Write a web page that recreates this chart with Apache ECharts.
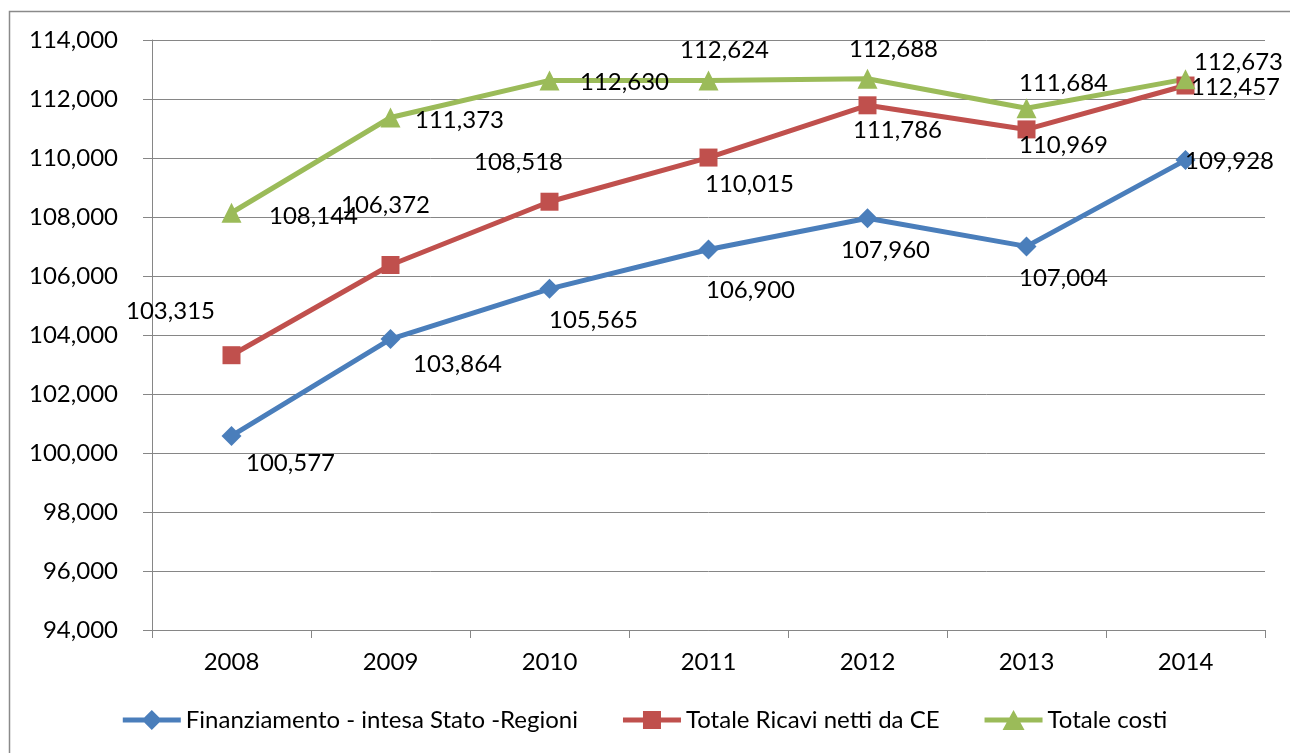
<!DOCTYPE html>
<html>
<head>
<meta charset="utf-8">
<style>
  html, body { margin: 0; padding: 0; background: #fff; }
  #chart { width: 1290px; height: 753px; }
</style>
<script src="https://cdn.jsdelivr.net/npm/echarts@6/dist/echarts.min.js"></script>
</head>
<body>
<div id="chart"></div>
<script>
// dati
var years = ['2008', '2009', '2010', '2011', '2012', '2013', '2014'];
var finanziamento = [100577, 103864, 105565, 106900, 107960, 107004, 109928];
var ricavi = [103315, 106372, 108518, 110015, 111786, 110969, 112457];
var costi = [108144, 111373, 112630, 112624, 112688, 111684, 112673];
var seriesNames = ['Finanziamento - intesa Stato -Regioni', 'Totale Ricavi netti da CE', 'Totale costi'];

// spostamento etichette (px) rispetto al punto
var offBlue = [[59, 27], [67, 25], [44, 31], [42, 41], [18, 32], [37, 32], [44, 1]];
var offRed = [[-61, -44], [-5, -60], [-31, -39], [41, 27], [30, 25], [37, 16], [50, 2]];
var offGreen = [[82, 4], [69, 3], [75, 2], [16, -30], [26, -29], [37, -25], [53, -17]];

// icone legenda: linea spessa + simbolo (58x20)
var bar = 'M0 7.5 L58 7.5 L58 12.5 L0 12.5 Z ';
var legendIcons = [
    'path://' + bar + 'M19 10 L29 0 L39 10 L29 20 Z',
    'path://' + bar + 'M20 1 L38 1 L38 19 L20 19 Z M0 0 L0.01 0 L0.01 20 L0 20 Z',
    'path://' + bar + 'M18 20 L29 0 L40 20 Z'
];

var FONT = 'Lato';
var FS = 24;
var fmt = function (v) { return Number(v).toLocaleString('en-US'); };

function makeData(values, offs) {
    return values.map(function (v, i) {
        return { value: v, label: { offset: offs[i] } };
    });
}

function lineSeries(name, values, offs, color, symbol, size) {
    return {
        name: name,
        type: 'line',
        data: makeData(values, offs),
        symbol: symbol,
        symbolSize: size,
        showAllSymbol: true,
        lineStyle: { color: color, width: 5 },
        itemStyle: { color: color },
        label: {
            show: true,
            position: 'inside',
            color: '#000',
            fontFamily: FONT,
            fontSize: FS,
            formatter: function (p) { return fmt(p.value); }
        },
        emphasis: { disabled: true },
        animation: false
    };
}

var chart = echarts.init(document.getElementById('chart'));
var option = {
    backgroundColor: '#fff',
    textStyle: { fontFamily: FONT },
    graphic: [{
        type: 'rect',
        shape: { x: 9.5, y: 11.5, width: 1300, height: 800 },
        style: { fill: 'none', stroke: '#8a8a8a', lineWidth: 1.5 },
        silent: true,
        z: -1
    }],
    grid: { left: 152, right: 25, top: 40, bottom: 123, containLabel: false },
    legend: {
        bottom: 16,
        left: 'center',
        itemWidth: 58,
        itemHeight: 20,
        itemGap: 45,
        symbolKeepAspect: false,
        textStyle: { fontFamily: FONT, fontSize: FS, color: '#000' },
        data: seriesNames.map(function (n, i) {
            return { name: n, icon: legendIcons[i] };
        })
    },
    xAxis: {
        type: 'category',
        data: years,
        boundaryGap: true,
        axisLine: { lineStyle: { color: '#868686', width: 1 } },
        axisTick: { show: true, length: 8, lineStyle: { color: '#868686' } },
        axisLabel: { color: '#000', fontFamily: FONT, fontSize: FS, margin: 20 }
    },
    yAxis: {
        type: 'value',
        min: 94000,
        max: 114000,
        interval: 2000,
        axisLine: { show: true, lineStyle: { color: '#868686', width: 1 } },
        axisTick: { show: true, length: 9, lineStyle: { color: '#868686' } },
        splitLine: { lineStyle: { color: '#868686', width: 1 } },
        axisLabel: { color: '#000', fontFamily: FONT, fontSize: FS, margin: 34, formatter: fmt }
    },
    series: [
        lineSeries(seriesNames[0], finanziamento, offBlue, '#4a7ebb', 'diamond', 20),
        lineSeries(seriesNames[1], ricavi, offRed, '#c0504d', 'rect', 18),
        lineSeries(seriesNames[2], costi, offGreen, '#9bbb59', 'triangle', 20)
    ]
};
chart.setOption(option);
window.addEventListener('resize', chart.resize);
</script>
</body>
</html>
